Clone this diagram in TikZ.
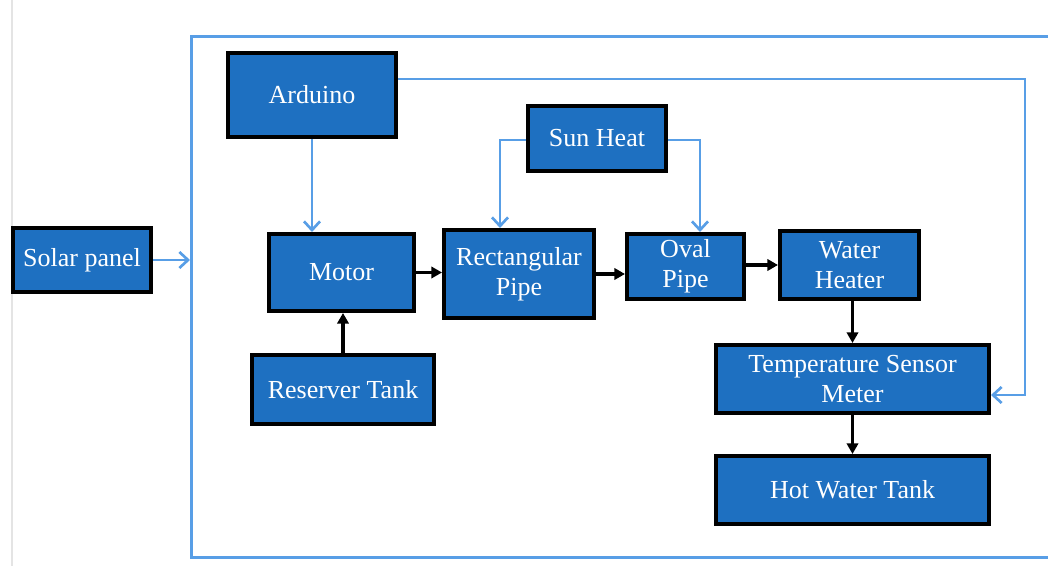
\documentclass[tikz,border=0pt]{standalone}
\usepackage{fontspec}
\setmainfont{Liberation Serif}
\usetikzlibrary{arrows.meta}
\definecolor{boxfill}{RGB}{30,112,193}
\definecolor{linkblue}{RGB}{88,158,230}
\definecolor{edgegray}{RGB}{228,228,228}
\begin{document}
\begin{tikzpicture}[x=0.75pt,y=-0.75pt,
  box/.style={draw=black, line width=3pt, fill=boxfill, text=white, align=center,
    inner sep=0pt, font=\fontsize{19.5}{22.5}\selectfont},
  sz/.style 2 args={minimum width=#1*0.75pt-3pt, minimum height=#2*0.75pt-3pt},
  blink/.style={draw=linkblue, line width=2pt, -{Straight Barb[length=6.5pt,width=12pt,line width=2pt]}},
  klink/.style={draw=black, line width=2.8pt, -{Triangle[length=8pt,width=8.5pt]}},
  framebox/.style={draw=linkblue, line width=2pt, inner sep=0pt}
]
\useasboundingbox (0,0) rectangle (1048,566);
\draw[edgegray, line width=0.8pt] (12,0) -- (12,566);
\node[framebox, anchor=north west, minimum width=920*0.75pt, minimum height=521*0.75pt] (frame) at (190,35) {};

\node[box, sz={142}{68}] (sol) at (82,260) {Solar panel};
\node[box, sz={172}{88}] (ard) at (312,95) {Arduino};
\node[box, sz={149}{81}] (mot) at (341.5,272.5) {Motor};
\node[box, sz={186}{73}] (res) at (343,389.5) {Reserver Tank};
\node[box, sz={142}{69}] (sun) at (597,138.5) {Sun Heat};
\node[box, sz={154}{92}] (rect) at (519,274) {Rectangular\\Pipe};
\node[box, sz={121}{69}] (oval) at (685.5,266.5) {Oval\\Pipe};
\node[box, sz={143}{72}] (wh) at (849.5,265) {Water\\Heater};
\node[box, sz={277}{72}] (temp) at (852.5,379) {Temperature Sensor\\Meter};
\node[box, sz={277}{72}] (hot) at (852.5,490) {Hot Water Tank};

\coordinate (ac) at (1025,79);
\coordinate (tc) at (1025,395);
\coordinate (sl) at (500,140);
\coordinate (sr) at (700,140);

% blue links
\draw[blink] (sol.east) -- (sol.east -| frame.west);
\draw[blink] (ard.south) -- (ard.south |- mot.north);
\draw[blink] (ard.east |- ac) -- (ac) -- (tc) -- (temp.east |- tc);
\draw[blink] (sun.west |- sl) -- (sl) -- (sl |- rect.north);
\draw[blink] (sun.east |- sr) -- (sr) -- (sr |- oval.north);

% black links
\draw[klink] (mot.east) -- (mot.east -| rect.west);
\draw[klink] (rect.east) -- (rect.east -| oval.west);
\draw[klink] (oval.east |- wh.west) -- (wh.west);
\draw[klink] (temp.north |- wh.south) -- (temp.north);
\draw[klink] (res.north) -- (res.north |- mot.south);
\draw[klink] (temp.south) -- (hot.north);
\end{tikzpicture}
\end{document}
